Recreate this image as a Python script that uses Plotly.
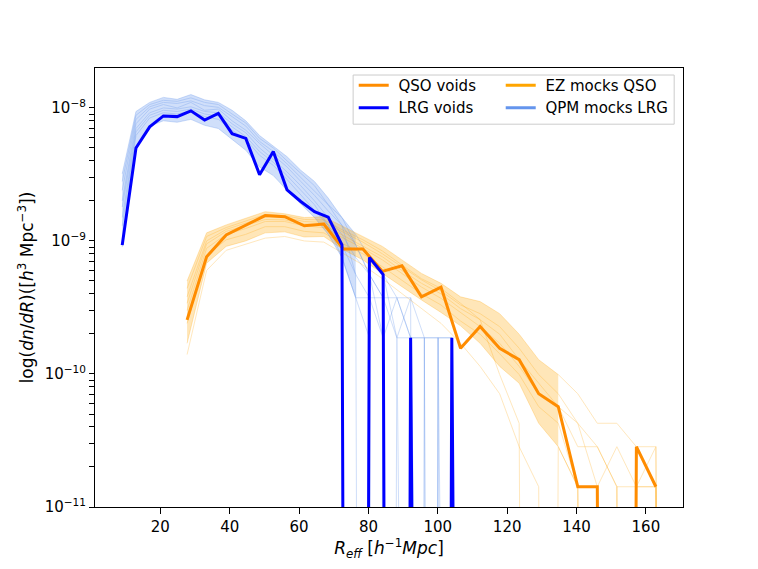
import plotly.graph_objects as go

# bin centres, h^-1 Mpc
lrg_r = [9.00, 12.96, 16.92, 20.88, 24.84, 28.80, 32.76, 36.72, 40.68, 44.64,
         48.60, 52.56, 56.52, 60.48, 64.44, 68.40, 72.36, 76.32, 80.28, 84.24,
         88.20, 92.16, 96.12, 100.08, 104.04, 108.00, 111.96]
qso_r = [27.70, 33.33, 38.97, 44.60, 50.23, 55.87, 61.50, 67.13, 72.76, 78.40,
         84.03, 89.66, 95.30, 100.93, 106.56, 112.20, 117.83, 123.46, 129.09, 134.73,
         140.36, 145.99, 151.63, 157.26, 162.89, 168.52]

# dn/dR in units of 1e-9 h^3 Mpc^-3
lrg_voids = [0.93, 5.0, 7.2, 8.7, 8.6, 9.5, 8.1, 9.1, 6.4, 5.9,
             3.15, 4.7, 2.42, 1.98, 1.66, 1.51, 0.935, 0, 0.75, 0.56,
             0, 0.187, 0, 0, 0.187, 0, 0]
qso_voids = [0.255, 0.76, 1.11, 1.32, 1.55, 1.52, 1.30, 1.34, 0.87, 0.87,
             0.59, 0.65, 0.38, 0.45, 0.156, 0.227, 0.156, 0.128, 0.071, 0.0568,
             0.0142, 0.0142, 0, 0.0284, 0.0142]

# a few QPM mock realisations (LRG)
qpm_mocks = [
    [3.2, 9.4, 11.0, 12.0, 11.6, 12.6, 11.5, 11.0, 9.6, 8.0, 6.2, 5.2, 4.3, 3.4,
     2.8, 2.1, 1.5, 1.12, 0.75, 0.56, 0.374, 0.374, 0.187, 0.187, 0.187, 0, 0],
    [2.4, 8.2, 10.2, 11.0, 10.8, 11.3, 10.4, 10.1, 8.6, 7.3, 5.6, 4.7, 3.8, 3.0,
     2.4, 1.87, 1.31, 0.935, 0.56, 0.374, 0.187, 0.374, 0, 0.187, 0, 0, 0],
    [1.8, 7.0, 9.2, 10.0, 9.8, 10.2, 9.4, 9.2, 7.6, 6.5, 5.0, 4.1, 3.3, 2.6,
     2.0, 1.5, 1.12, 0.75, 0.56, 0.187, 0.374, 0.187, 0.187, 0, 0.187, 0, 0],
    [1.3, 6.2, 8.4, 9.2, 9.0, 9.5, 8.6, 8.2, 6.8, 5.8, 4.4, 3.7, 2.9, 2.2,
     1.7, 1.31, 0.935, 0.56, 0.374, 0.374, 0, 0.187, 0, 0, 0, 0, 0],
    [0.9, 5.0, 7.3, 8.0, 7.8, 8.2, 7.4, 7.0, 5.8, 4.8, 3.6, 3.1, 2.4, 1.9,
     1.5, 1.12, 0.75, 0.374, 0.187, 0, 0.187, 0, 0, 0, 0, 0, 0],
    [2.0, 7.6, 9.8, 10.6, 10.0, 11.0, 9.6, 9.8, 8.0, 6.8, 5.4, 4.4, 3.6, 2.8,
     2.2, 1.68, 1.31, 0.56, 0, 0.56, 0.187, 0.187, 0.187, 0, 0, 0, 0],
    [2.8, 8.8, 10.6, 11.4, 11.2, 11.9, 11.0, 10.6, 9.0, 7.7, 5.9, 5.0, 4.0, 3.2,
     2.6, 1.87, 1.5, 0.935, 0.56, 0.374, 0.374, 0.187, 0, 0.187, 0.187, 0, 0],
    [1.5, 6.6, 8.8, 9.6, 9.4, 9.8, 9.0, 8.7, 7.2, 6.1, 4.7, 3.9, 3.1, 2.4,
     1.87, 1.31, 0.75, 0.374, 0.374, 0.187, 0, 0, 0.187, 0.187, 0, 0, 0],
]

# a few EZ mock realisations (QSO)
ez_mocks = [
    [0.50, 1.15, 1.32, 1.48, 1.66, 1.60, 1.50, 1.52, 1.28, 1.08, 0.91, 0.72, 0.57,
     0.48, 0.38, 0.35, 0.284, 0.199, 0.128, 0.099, 0.071, 0.0426, 0.0426, 0.0284, 0.0284, 0],
    [0.38, 1.00, 1.22, 1.36, 1.52, 1.50, 1.40, 1.38, 1.16, 0.98, 0.80, 0.64, 0.51,
     0.42, 0.33, 0.284, 0.227, 0.156, 0.099, 0.071, 0.0426, 0.0284, 0.0142, 0.0142, 0.0284, 0],
    [0.30, 0.88, 1.12, 1.24, 1.40, 1.40, 1.30, 1.26, 1.05, 0.88, 0.72, 0.57, 0.45,
     0.37, 0.29, 0.227, 0.170, 0.114, 0.071, 0.0568, 0.0284, 0.0284, 0.0142, 0, 0.0142, 0],
    [0.24, 0.78, 1.02, 1.12, 1.28, 1.28, 1.18, 1.15, 0.95, 0.80, 0.64, 0.51, 0.40,
     0.33, 0.25, 0.199, 0.142, 0.099, 0.0568, 0.0426, 0.0142, 0.0142, 0, 0.0142, 0, 0],
    [0.17, 0.68, 0.91, 1.00, 1.15, 1.17, 1.07, 1.08, 0.86, 0.72, 0.57, 0.45, 0.36,
     0.29, 0.23, 0.170, 0.114, 0.0852, 0.0426, 0.0284, 0.0142, 0, 0.0142, 0, 0, 0],
    [0.34, 0.95, 1.18, 1.30, 1.45, 1.44, 1.34, 1.32, 1.10, 0.92, 0.76, 0.60, 0.48,
     0.40, 0.31, 0.256, 0.199, 0.128, 0.0852, 0.0568, 0.0426, 0.0142, 0.0284, 0.0142, 0.0142, 0],
    [0.14, 0.60, 0.85, 0.95, 1.05, 1.08, 1.00, 0.98, 0.80, 0.66, 0.52, 0.40, 0.31,
     0.24, 0.17, 0.114, 0.071, 0.0284, 0.0142, 0, 0.0142, 0, 0, 0, 0, 0],
    [0.44, 1.08, 1.26, 1.42, 1.58, 1.55, 1.45, 1.44, 1.20, 1.02, 0.84, 0.66, 0.52,
     0.44, 0.34, 0.256, 0.099, 0.0426, 0, 0.0284, 0.0142, 0.0142, 0, 0.0142, 0.0142, 0],
]

UNIT = 1e-9
FLOOR = 1e-40  # like matplotlib's log clip: empty bins drop to the axis


def _dn(values):
    return [v * UNIT if v > 0 else FLOOR for v in values]


ORANGE_DARK = "#ff8c00"
ORANGE = "#ffa500"
BLUE = "#0000ff"
CORNFLOWER = "#6495ed"

fig = go.Figure()

# mock bands (upper and lower realisation, head of the distribution only)
for mocks, r, n, rgba in [
    (qpm_mocks, lrg_r, 18, "rgba(100,149,237,0.30)"),
    (ez_mocks, qso_r, 20, "rgba(255,165,0,0.28)"),
]:
    fig.add_trace(go.Scatter(x=r[:n], y=_dn(mocks[0][:n]), mode="lines",
                             line=dict(width=0), showlegend=False, hoverinfo="skip"))
    fig.add_trace(go.Scatter(x=r[:n], y=_dn(mocks[4][:n]), mode="lines", fill="tonexty",
                             fillcolor=rgba, line=dict(width=0), showlegend=False,
                             hoverinfo="skip"))

for m in qpm_mocks:
    fig.add_trace(go.Scatter(x=lrg_r, y=_dn(m), mode="lines",
                             line=dict(color=CORNFLOWER, width=1), opacity=0.3,
                             showlegend=False, hoverinfo="skip"))
for m in ez_mocks:
    fig.add_trace(go.Scatter(x=qso_r, y=_dn(m), mode="lines",
                             line=dict(color=ORANGE, width=1), opacity=0.25,
                             showlegend=False, hoverinfo="skip"))

fig.add_trace(go.Scatter(x=qso_r[:len(qso_voids)], y=_dn(qso_voids), mode="lines",
                         name=" QSO voids", line=dict(color=ORANGE_DARK, width=3),
                         legend="legend", legendrank=1))
fig.add_trace(go.Scatter(x=lrg_r, y=_dn(lrg_voids), mode="lines",
                         name=" LRG voids", line=dict(color=BLUE, width=3),
                         legend="legend", legendrank=2))

# legend handles for the mock families
fig.add_trace(go.Scatter(x=[None], y=[None], mode="lines", name=" EZ mocks QSO",
                         line=dict(color=ORANGE, width=3), legend="legend2", legendrank=1))
fig.add_trace(go.Scatter(x=[None], y=[None], mode="lines", name=" QPM mocks LRG",
                         line=dict(color=CORNFLOWER, width=3), legend="legend2", legendrank=2))

# log ticks: labelled decades plus unlabelled 2..9 minors
y_tickvals = []
y_ticktext = []
for e in range(-11, -7):
    for m in range(1, 10):
        y_tickvals.append(m * 10.0 ** e)
        y_ticktext.append(f"10<sup>−{-e}</sup>" if m == 1 else "")
y_tickvals.append(1e-8)
y_ticktext.append("10<sup>−8</sup>")

font = dict(family="DejaVu Sans", size=15, color="black")
legend_style = dict(bgcolor="rgba(0,0,0,0)", borderwidth=0, font=font,
                    xanchor="left", yanchor="top", y=0.998, tracegroupgap=0,
                    traceorder="normal")

fig.update_layout(
    width=758,
    height=569,
    template="plotly_white",
    plot_bgcolor="white",
    paper_bgcolor="white",
    font=font,
    margin=dict(l=87, r=83, t=60, b=70),
    legend=dict(x=0.44, **legend_style),
    legend2=dict(x=0.69, **legend_style),
    shapes=[dict(type="rect", xref="paper", yref="paper", x0=0.439, x1=0.985,
                 y0=0.872, y1=0.984, line=dict(color="#cccccc", width=1),
                 fillcolor="rgba(255,255,255,0.8)", layer="above")],
)

fig.update_xaxes(
    range=[1.15, 170.7],
    tickvals=[20, 40, 60, 80, 100, 120, 140, 160],
    ticks="outside", ticklen=6, tickwidth=1.3, tickcolor="black",
    showgrid=False, zeroline=False,
    showline=True, linecolor="black", linewidth=1.2, mirror=True,
    title=dict(text="<i>R<sub>eff</sub></i> [<i>h</i><sup>−1</sup><i>Mpc</i>]",
               font=dict(family="DejaVu Sans", size=17), standoff=6),
)
fig.update_yaxes(
    type="log",
    range=[-11, -7.7],
    tickmode="array",
    tickvals=y_tickvals,
    ticktext=y_ticktext,
    ticks="outside", ticklen=5, tickwidth=1.3, tickcolor="black",
    showgrid=False, zeroline=False,
    showline=True, linecolor="black", linewidth=1.2, mirror=True,
    title=dict(text="log(<i>dn</i>/<i>dR</i>)([<i>h</i><sup>3</sup> Mpc<sup>−3</sup>])",
               font=dict(family="DejaVu Sans", size=17), standoff=6),
)

fig.write_html("out.html")
